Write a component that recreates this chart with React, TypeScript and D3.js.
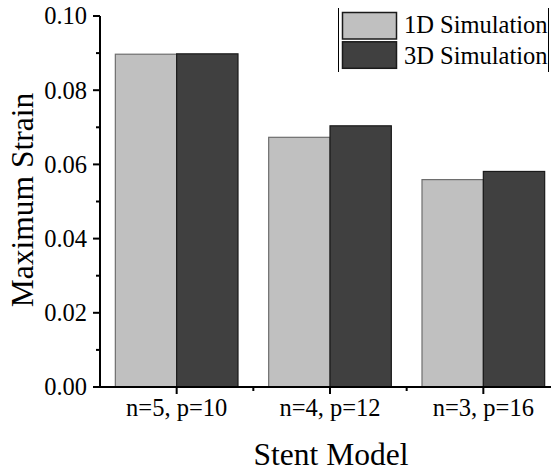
import React from 'react';
import * as d3 from 'd3';

// chart data
const categories = ['n=5, p=10', 'n=4, p=12', 'n=3, p=16'];
const seriesNames = ['1D Simulation', '3D Simulation'];
const sim1D = [0.0897, 0.0673, 0.0559];
const sim3D = [0.0898, 0.0704, 0.0581];
const yTicks = [0, 0.02, 0.04, 0.06, 0.08, 0.1];
const yMinorTicks = [0.01, 0.03, 0.05, 0.07, 0.09];

const fills = ['#c0c0c0', '#404040'];
const strokes = ['#6e6e6e', '#1a1a1a'];
const font = '"Liberation Serif", "Times New Roman", serif';

const App = () => {
  const width = 551;
  const height = 471;
  const margin = { left: 100, top: 16, right: 560, bottom: 387 };

  const xScale = d3
    .scaleBand()
    .domain(categories)
    .range([margin.left, margin.right])
    .paddingInner(0.2)
    .paddingOuter(0.1);

  const inner = d3
    .scaleBand()
    .domain(seriesNames)
    .range([0, xScale.bandwidth()]);

  const yScale = d3.scaleLinear().domain([0, 0.1]).range([margin.bottom, margin.top]);

  const series = [sim1D, sim3D];
  const step = xScale.step();

  // minor x ticks halfway between categories
  const xMinor = categories.slice(0, -1).map((c) => (xScale(c) as number) + xScale.bandwidth() / 2 + step / 2);

  const bars = series.flatMap((vals, si) =>
    vals.map((v, i) => (
      <rect
        key={si + '-' + i}
        x={(xScale(categories[i]) as number) + (inner(seriesNames[si]) as number)}
        y={yScale(v)}
        width={inner.bandwidth()}
        height={yScale(0) - yScale(v)}
        fill={fills[si]}
        stroke={strokes[si]}
        strokeWidth={1.2}
      />
    ))
  );

  return (
    <svg width={width} height={height} style={{ display: 'block', position: 'absolute', left: 0, top: 0 }}>
      <rect width={width} height={height} fill="#fff" />
      {bars}

      {/* y axis */}
      <line x1={margin.left} x2={margin.left} y1={margin.top} y2={margin.bottom + 1} stroke="#000" strokeWidth={2} />
      {yTicks.map((t) => (
        <g key={'y' + t}>
          <line x1={margin.left - 7} x2={margin.left} y1={yScale(t)} y2={yScale(t)} stroke="#000" strokeWidth={2} />
          <text
            x={margin.left - 13}
            y={yScale(t)}
            dy="0.34em"
            textAnchor="end"
            fontFamily={font}
            fontSize={24.5}
            fill="#000"
          >
            {d3.format('.2f')(t)}
          </text>
        </g>
      ))}
      {yMinorTicks.map((t) => (
        <line key={'ym' + t} x1={margin.left - 4} x2={margin.left} y1={yScale(t)} y2={yScale(t)} stroke="#000" strokeWidth={2} />
      ))}

      {/* x axis */}
      <line x1={margin.left - 1} x2={margin.right} y1={margin.bottom} y2={margin.bottom} stroke="#000" strokeWidth={2} />
      {categories.map((c) => {
        const cx = (xScale(c) as number) + xScale.bandwidth() / 2;
        return (
          <g key={c}>
            <line x1={cx} x2={cx} y1={margin.bottom} y2={margin.bottom + 7} stroke="#000" strokeWidth={2} />
            <text x={cx} y={416} textAnchor="middle" fontFamily={font} fontSize={24.5} fill="#000">
              {c}
            </text>
          </g>
        );
      })}
      {xMinor.map((mx, i) => (
        <line key={'xm' + i} x1={mx} x2={mx} y1={margin.bottom} y2={margin.bottom + 4} stroke="#000" strokeWidth={2} />
      ))}

      {/* axis titles */}
      <text
        transform={'translate(33,200) rotate(-90)'}
        textAnchor="middle"
        fontFamily={font}
        fontSize={31.5}
        fill="#000"
      >
        Maximum Strain
      </text>
      <text x={331} y={465} textAnchor="middle" fontFamily={font} fontSize={31.5} fill="#000">
        Stent Model
      </text>

      {/* legend */}
      <line x1={338.5} x2={338.5} y1={8} y2={72} stroke="#000" strokeWidth={1} />
      <line x1={548.5} x2={548.5} y1={8} y2={72} stroke="#000" strokeWidth={1} />
      {seriesNames.map((s, i) => (
        <g key={s}>
          <rect
            x={342.5}
            y={12.5 + i * 29.3}
            width={54}
            height={26.5}
            fill={fills[i]}
            stroke="#1a1a1a"
            strokeWidth={1.5}
          />
          <text x={404} y={32.5 + i * 31} fontFamily={font} fontSize={24.5} fill="#000">
            {s}
          </text>
        </g>
      ))}
    </svg>
  );
};

export default App;
